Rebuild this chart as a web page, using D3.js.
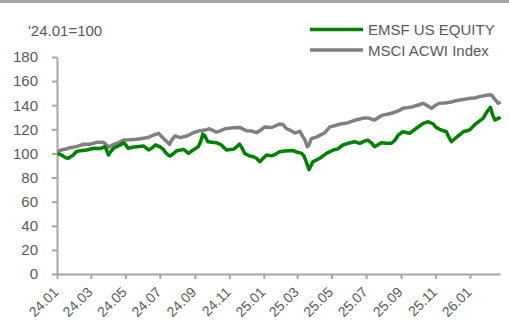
<!DOCTYPE html>
<html>
<head>
<meta charset="utf-8">
<script src="https://cdn.jsdelivr.net/npm/d3@7"></script>
<style>
  html, body { margin: 0; padding: 0; background: #fff; }
  svg { display: block; }
  text { font-family: "Liberation Sans", Arial, sans-serif; fill: #595959; }
</style>
</head>
<body>
<svg id="chart" width="509" height="320"></svg>
<script>
// Series names
const seriesNames = ["EMSF US EQUITY", "MSCI ACWI Index"];

// EMSF US EQUITY, rebased '24.01 = 100
const emsfDates = [
  "2024-01-02","2024-01-09","2024-01-16","2024-01-21","2024-01-30","2024-02-04","2024-02-11",
  "2024-02-23","2024-03-06","2024-03-17","2024-03-26","2024-03-29","2024-04-01","2024-04-05",
  "2024-04-10","2024-04-22","2024-04-28","2024-05-02","2024-05-06","2024-05-14","2024-05-21",
  "2024-06-02","2024-06-11","2024-06-17","2024-06-23","2024-07-01","2024-07-07","2024-07-10",
  "2024-07-15","2024-07-19","2024-07-24","2024-07-31","2024-08-12","2024-08-21","2024-08-29",
  "2024-09-07","2024-09-11","2024-09-15","2024-09-18","2024-09-24","2024-10-01","2024-10-09",
  "2024-10-18","2024-10-22","2024-10-27","2024-11-02","2024-11-08","2024-11-14","2024-11-19",
  "2024-11-24","2024-11-28","2024-12-07","2024-12-12","2024-12-19","2024-12-25","2024-12-30",
  "2025-01-06","2025-01-15","2025-01-22","2025-01-29","2025-02-07","2025-02-16","2025-02-21",
  "2025-02-28","2025-03-09","2025-03-13","2025-03-17","2025-03-22","2025-03-25","2025-03-29",
  "2025-04-04","2025-04-10","2025-04-22","2025-05-04","2025-05-12","2025-05-21","2025-05-30",
  "2025-06-11","2025-06-20","2025-06-27","2025-07-04","2025-07-11","2025-07-16","2025-07-28",
  "2025-08-05","2025-08-15","2025-08-21","2025-08-27","2025-09-04","2025-09-16","2025-09-28",
  "2025-10-10","2025-10-19","2025-10-28","2025-11-01","2025-11-08","2025-11-20","2025-11-24",
  "2025-11-29","2025-12-08","2025-12-20","2025-12-31","2026-01-12","2026-01-24","2026-01-31",
  "2026-02-06","2026-02-10","2026-02-14","2026-02-20","2026-02-24"
];
const emsfValues = [
  100.0, 98.7, 96.5, 96.0, 98.7, 101.4, 102.3,
  102.9, 104.3, 104.0, 105.6, 102.5, 98.7, 101.5,
  104.3, 107.0, 108.9, 107.0, 104.3, 105.2, 105.6,
  106.2, 102.9, 104.5, 107.0, 105.6, 103.4, 101.4,
  99.0, 97.9, 99.5, 102.3, 103.4, 100.1, 102.9,
  105.6, 109.5, 116.0, 115.0, 109.7, 109.3, 108.9,
  107.0, 105.0, 102.9, 103.2, 103.4, 105.5, 107.8,
  104.0, 100.1, 97.9, 97.5, 96.0, 93.2, 95.5,
  98.7, 98.0, 99.5, 101.4, 102.0, 102.3, 102.5,
  101.2, 100.1, 98.0, 93.2, 86.5, 89.5, 93.2,
  94.5, 96.0, 100.1, 102.9, 103.8, 107.0, 108.4,
  109.7, 108.4, 110.0, 111.1, 108.5, 105.6, 108.9,
  108.5, 108.4, 111.0, 115.3, 118.0, 116.7, 120.9,
  125.0, 126.3, 124.4, 122.0, 120.0, 118.0, 114.0,
  109.7, 113.4, 118.0, 119.4, 125.0, 129.1, 134.6,
  138.3, 131.9, 127.7, 129.1, 130.0
];

// MSCI ACWI Index, rebased '24.01 = 100
const acwiDates = [
  "2024-01-02","2024-01-08","2024-01-18","2024-01-24","2024-02-03","2024-02-17","2024-02-28",
  "2024-03-11","2024-03-23","2024-03-29","2024-04-01","2024-04-10","2024-04-18","2024-04-28",
  "2024-05-09","2024-05-21","2024-06-02","2024-06-10","2024-06-20","2024-06-29","2024-07-07",
  "2024-07-13","2024-07-18","2024-07-22","2024-07-28","2024-08-06","2024-08-18","2024-08-29",
  "2024-09-10","2024-09-19","2024-09-27","2024-10-09","2024-10-15","2024-10-24","2024-11-08",
  "2024-11-19","2024-12-01","2024-12-11","2024-12-19","2024-12-27","2025-01-03","2025-01-15",
  "2025-01-22","2025-01-29","2025-02-04","2025-02-10","2025-02-16","2025-02-25","2025-03-06",
  "2025-03-11","2025-03-15","2025-03-19","2025-03-22","2025-03-26","2025-04-04","2025-04-10",
  "2025-04-19","2025-04-28","2025-05-06","2025-05-15","2025-05-30","2025-06-11","2025-06-20",
  "2025-06-29","2025-07-07","2025-07-16","2025-07-25","2025-07-31","2025-08-08","2025-08-18",
  "2025-08-26","2025-09-04","2025-09-13","2025-09-22","2025-09-30","2025-10-10","2025-10-16",
  "2025-10-25","2025-11-01","2025-11-08","2025-11-17","2025-11-26","2025-12-05","2025-12-14",
  "2025-12-23","2025-12-31","2026-01-09","2026-01-18","2026-01-27","2026-02-02","2026-02-08",
  "2026-02-14","2026-02-20","2026-02-24"
];
const acwiValues = [
  101.5, 102.9, 103.7, 104.8, 105.5, 107.6, 107.6,
  109.2, 109.2, 107.0, 105.2, 107.3, 108.8, 111.1,
  111.3, 111.7, 112.6, 113.2, 115.3, 116.7, 112.6,
  110.0, 107.5, 111.0, 114.5, 113.1, 114.5, 117.2,
  118.9, 119.4, 120.5, 117.7, 118.5, 120.5, 121.3,
  121.6, 118.9, 118.6, 117.2, 119.5, 122.0, 121.5,
  123.0, 124.4, 124.0, 120.5, 119.4, 117.0, 118.3,
  114.0, 111.0, 105.6, 107.0, 112.3, 113.5, 115.0,
  117.2, 122.0, 123.0, 124.2, 125.5, 127.5, 128.6,
  129.5, 129.1, 127.7, 130.5, 131.9, 132.5, 133.8,
  135.0, 137.4, 138.0, 138.8, 140.0, 141.6, 140.0,
  137.4, 140.0, 141.6, 141.8, 142.4, 143.5, 144.3,
  145.0, 145.7, 146.0, 147.1, 148.0, 148.5, 148.5,
  144.9, 141.6, 142.7
];

// Axis tick values and labels
const yTicks = [0, 20, 40, 60, 80, 100, 120, 140, 160, 180];
const xTickLabels = ["24.01","24.03","24.05","24.07","24.09","24.11",
                     "25.01","25.03","25.05","25.07","25.09","25.11","26.01"];

const parse = d3.timeParse("%Y-%m-%d");
const parseTick = d3.timeParse("%y.%m");

const svg = d3.select("#chart");
const margin = { left: 57, right: 9, top: 57, bottom: 46 };
const W = 509, H = 320;

const x = d3.scaleTime()
  .domain([parse("2024-01-01"), parse("2026-02-23")])
  .range([margin.left, W - margin.right]);
const y = d3.scaleLinear()
  .domain([0, 180])
  .range([H - margin.bottom, margin.top]);

// Rule across the top of the frame
svg.append("line")
  .attr("x1", 0).attr("x2", W)
  .attr("y1", 1.5).attr("y2", 1.5)
  .attr("stroke", "#a6a6a6").attr("stroke-width", 3);

// Unit note
svg.append("text")
  .attr("x", 28).attr("y", 36)
  .attr("font-size", 15)
  .text("'24.01=100");

// Y axis
const yAxis = svg.append("g")
  .attr("transform", `translate(${margin.left},0)`)
  .call(d3.axisLeft(y).tickValues(yTicks).tickSize(5).tickPadding(14).tickSizeOuter(0));
yAxis.select(".domain").attr("stroke", "#a6a6a6").attr("stroke-width", 2);
yAxis.selectAll(".tick line").attr("stroke", "#a6a6a6").attr("stroke-width", 2);
yAxis.selectAll(".tick text")
  .attr("font-size", 15)
  .attr("font-family", "Liberation Sans, Arial, sans-serif")
  .attr("fill", "#595959");

// X axis, date labels slanted upward
const xAxis = svg.append("g")
  .attr("transform", `translate(0,${y(0)})`)
  .call(d3.axisBottom(x)
    .tickValues(xTickLabels.map(parseTick))
    .tickFormat(d3.timeFormat("%y.%m"))
    .tickSize(5).tickSizeOuter(0));
xAxis.select(".domain").attr("stroke", "#a6a6a6").attr("stroke-width", 2);
xAxis.selectAll(".tick line").attr("stroke", "#a6a6a6").attr("stroke-width", 2);
xAxis.selectAll(".tick text")
  .attr("font-size", 14)
  .attr("font-family", "Liberation Sans, Arial, sans-serif")
  .attr("fill", "#595959")
  .attr("text-anchor", "end")
  .attr("dy", null)
  .attr("y", 0)
  .attr("transform", "translate(2,19) rotate(-45)");

// Lines
const line = d3.line()
  .x(d => x(d[0]))
  .y(d => y(d[1]));

const emsf = emsfDates.map((d, i) => [parse(d), emsfValues[i]]);
const acwi = acwiDates.map((d, i) => [parse(d), acwiValues[i]]);

svg.append("path")
  .datum(acwi)
  .attr("fill", "none")
  .attr("stroke", "#808080")
  .attr("stroke-width", 3.5)
  .attr("stroke-linejoin", "round")
  .attr("d", line);

svg.append("path")
  .datum(emsf)
  .attr("fill", "none")
  .attr("stroke", "#008000")
  .attr("stroke-width", 3.5)
  .attr("stroke-linejoin", "round")
  .attr("d", line);

// Legend
const legendColors = ["#008000", "#808080"];
const legend = svg.append("g");
seriesNames.forEach((name, i) => {
  const ly = 29.5 + i * 20.5;
  legend.append("line")
    .attr("x1", 310).attr("x2", 363)
    .attr("y1", ly).attr("y2", ly)
    .attr("stroke", legendColors[i]).attr("stroke-width", 3.5);
  legend.append("text")
    .attr("x", 368).attr("y", ly + 5.5)
    .attr("font-size", 15)
    .text(name);
});
</script>
</body>
</html>
